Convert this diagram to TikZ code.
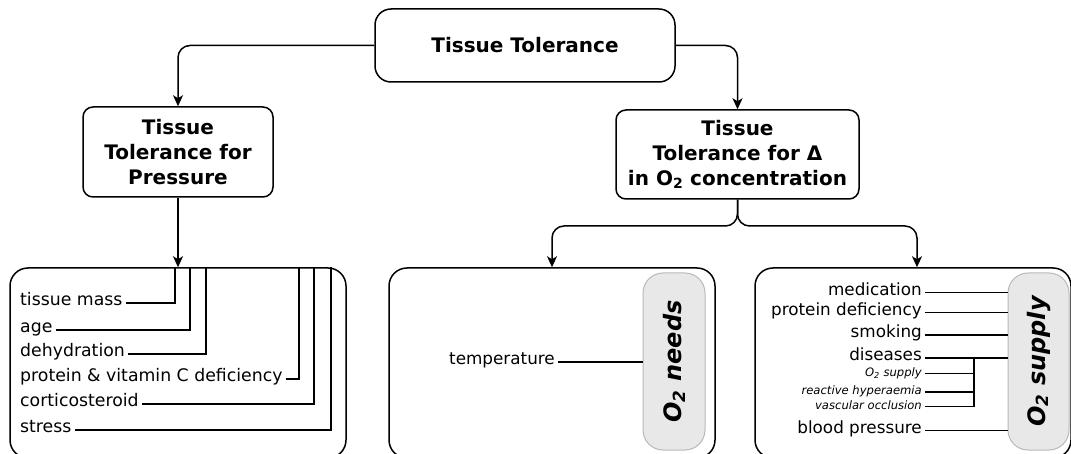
\documentclass[tikz,border=0pt]{standalone}
\usepackage{fontspec}
\setmainfont{DejaVu Sans}
\usetikzlibrary{arrows.meta}
\definecolor{grayfill}{RGB}{232,232,232}
\definecolor{grayline}{RGB}{185,185,185}
\tikzset{
  box/.style={draw, line width=1.5pt, rounded corners=#1, inner sep=0pt, align=center},
  title/.style={font=\fontsize{20}{25}\selectfont\bfseries},
  graybox/.style={draw=grayline, fill=grayfill, line width=1pt, rounded corners=20pt, inner sep=0pt},
  vlabel/.style={rotate=90, font=\fontsize{24}{28}\selectfont\bfseries\itshape, inner sep=0pt},
  lab/.style={font=\fontsize{16.8}{20}\selectfont, inner sep=0pt},
  llab/.style={font=\fontsize{17.3}{20}\selectfont, inner sep=0pt},
  slab/.style={font=\fontsize{11.6}{14}\selectfont\itshape, inner sep=0pt},
  conn/.style={line width=1.6pt},
  arr/.style={line width=1.5pt, -{Stealth[length=11pt,width=10pt,inset=3pt]}, rounded corners=12pt},
}
\begin{document}
\begin{tikzpicture}[x=1pt,y=-1pt]
\useasboundingbox (0,0) rectangle (1071,454);
% top level
\node[box=16pt, title, minimum width=300pt, minimum height=73pt] (T) at (525,45.5) {Tissue Tolerance};
\node[box=10pt, title, minimum width=190pt, minimum height=90pt] (P) at (178,152) {Tissue\\Tolerance for\\Pressure};
\node[box=10pt, title, minimum width=243pt, minimum height=89pt] (D) at (737.5,154.5) {Tissue\\Tolerance for Δ\\in O\textsubscript{2} concentration};
\draw[arr] (T.west) -| (P.north);
\draw[arr] (T.east) -| (D.north);
% bottom boxes
\node[box=18pt, minimum width=336pt, minimum height=190pt] (L) at (178,363) {};
\node[box=18pt, minimum width=326pt, minimum height=190pt] (M) at (552,363) {};
\node[box=18pt, minimum width=316pt, minimum height=190pt] (R) at (913,363) {};
\node[graybox, minimum width=62pt, minimum height=177pt] (G1) at (674,361.5) {};
\node[graybox, minimum width=61pt, minimum height=177pt] (G2) at (1038.5,361.5) {};
\node[vlabel] (G1t) at (G1.center) {O\textsubscript{2} needs};
\node[vlabel] (G2t) at (G2.center) {O\textsubscript{2} supply};
\draw[arr] (P.south) -- (L.north);
\coordinate (br) at (737.5,226);
\draw[arr] (D.south) -- (br) -- (br -| M.north) -- (M.north);
\draw[arr] (D.south) -- (br) -- ([xshift=4pt]br -| R.north) -- ([xshift=4pt]R.north);
% left box labels
\node[llab, anchor=mid west] (l1) at (20,303) {tissue mass};
\node[llab, anchor=mid west] (l2) at (20,330) {age};
\node[llab, anchor=mid west] (l3) at (20,354) {dehydration};
\node[llab, anchor=mid west] (l4) at (20,379) {protein \& vitamin C deficiency};
\node[llab, anchor=mid west] (l5) at (20,404) {corticosteroid};
\node[llab, anchor=mid west] (l6) at (20,430) {stress};
\draw[conn] ([xshift=3pt]l1.mid east) -| ([xshift=-3pt]L.north);
\draw[conn] ([xshift=3pt]l2.mid east) -| ([xshift=12pt]L.north);
\draw[conn] ([xshift=3pt]l3.mid east) -| ([xshift=28pt]L.north);
\draw[conn] ([xshift=3pt]l4.mid east) -| ([xshift=121pt]L.north);
\draw[conn] ([xshift=3pt]l5.mid east) -| ([xshift=136pt]L.north);
\draw[conn] ([xshift=3pt]l6.mid east) -| ([xshift=153pt]L.north);
% middle box
\node[lab, anchor=mid east] (t1) at (555,362) {temperature};
\draw[conn] ([xshift=3pt]t1.mid east) -- (t1.mid east -| G1.west);
% right box
\node[lab, anchor=mid east] (r1) at (922,292.5) {medication};
\node[lab, anchor=mid east] (r2) at (922,312.5) {protein deficiency};
\node[lab, anchor=mid east] (r3) at (922,335) {smoking};
\node[lab, anchor=mid east] (r4) at (922,358) {diseases};
\node[slab, anchor=mid east] (s1) at (922,373.5) {O\textsubscript{2} supply};
\node[slab, anchor=mid east] (s2) at (922,392) {reactive hyperaemia};
\node[slab, anchor=mid east] (s3) at (922,406.5) {vascular occlusion};
\node[lab, anchor=mid east] (r5) at (922,430.5) {blood pressure};
\foreach \n in {r1,r2,r3,r4,r5}
  \draw[conn] ([xshift=3pt]\n.mid east) -- (\n.mid east -| G2.west);
\coordinate (dv) at (974,358);
\foreach \n in {s1,s2,s3}
  \draw[conn] ([xshift=3pt]\n.mid east) -- (\n.mid east -| dv);
\draw[conn] (r4.mid east -| dv) -- (s3.mid east -| dv);
\end{tikzpicture}
\end{document}
